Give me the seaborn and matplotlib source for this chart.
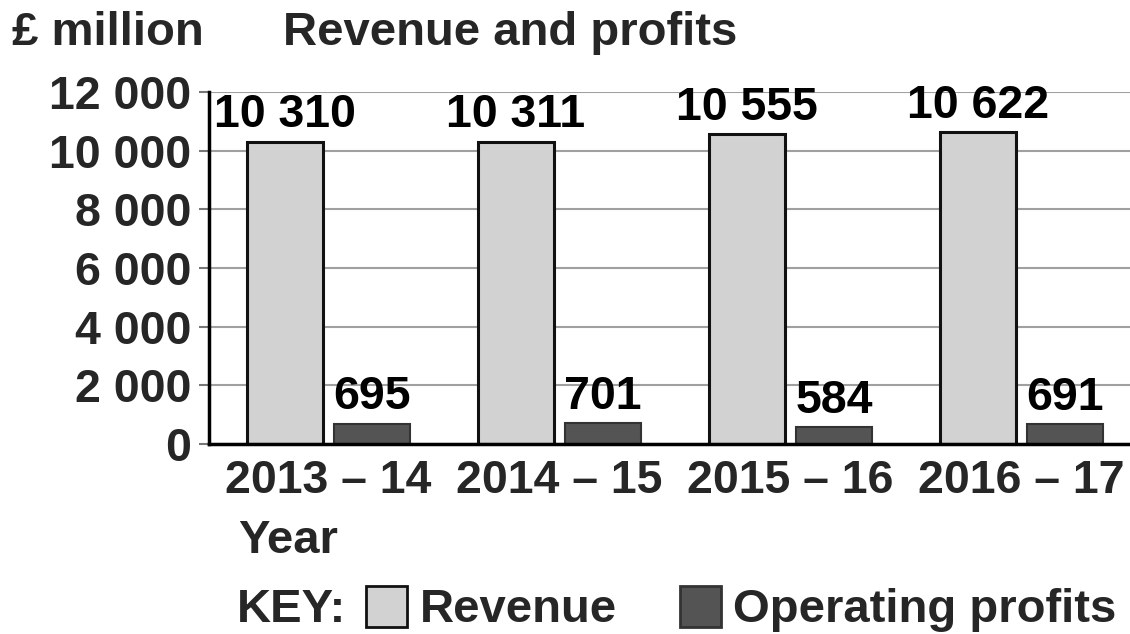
import numpy as np
import pandas as pd
import matplotlib
matplotlib.use("Agg")
import matplotlib.pyplot as plt
import seaborn as sns
from matplotlib.patches import Rectangle

# -------- Datos --------
years = ["2013 – 14", "2014 – 15", "2015 – 16", "2016 – 17"]
revenue = [10310, 10311, 10555, 10622]
profits = [695, 701, 584, 691]
series = ["Revenue", "Operating profits"]
colores = {"Revenue": "#d2d2d2", "Operating profits": "#545454"}
bordes = {"Revenue": "#111111", "Operating profits": "#333333"}
yticks = [0, 2000, 4000, 6000, 8000, 10000, 12000]


def fmt_miles(v):
    """12000 -> '12 000' (separador de miles con espacio)."""
    return f"{int(v):,}".replace(",", " ")


df = pd.DataFrame({
    "year": years * 2,
    "value": revenue + profits,
    "serie": [series[0]] * len(years) + [series[1]] * len(years),
})

sns.set_theme(style="white")
plt.rcParams["font.family"] = ["Liberation Sans", "DejaVu Sans"]
plt.rcParams["font.weight"] = "bold"

FS = 34      # textos generales
FS_T = 33.5  # ticks y etiquetas de valor

W, H = 1130, 634
fig = plt.figure(figsize=(W / 100, H / 100), dpi=100)
ax = fig.add_axes([209 / W, 1 - 444 / H, 1 - 209 / W, 352 / H])

sns.barplot(data=df, x="year", y="value", hue="serie", hue_order=series,
            palette=colores, width=0.752, gap=0.12, linewidth=2,
            edgecolor="#111111", legend=False, ax=ax)

for cont, s in zip(ax.containers, series):
    for p in cont:
        p.set_edgecolor(bordes[s])
        p.set_linewidth(2.2 if s == "Revenue" else 1.5)
    ax.bar_label(cont, labels=[fmt_miles(v) for v in cont.datavalues],
                 padding=3, fontsize=FS_T, fontweight="bold", color="black")

ax.set_ylim(0, 12000)
ax.set_xlim(-0.517, 3.47)
ax.set_yticks(yticks)
ax.set_yticklabels([fmt_miles(v) for v in yticks], fontsize=FS_T, fontweight="bold")
ax.set_xticks(range(len(years)))
ax.set_xticklabels(years, fontsize=FS_T, fontweight="bold")
ax.set_xlabel("")
ax.set_ylabel("")
ax.yaxis.grid(True, color="#a0a0a0", linewidth=1.5)
ax.set_axisbelow(True)
ax.tick_params(axis="y", length=7, width=1.5, color="#777777", pad=6, left=True)
ax.tick_params(axis="x", length=0, pad=11)
for lado in ["top", "right"]:
    ax.spines[lado].set_visible(False)
for lado in ["left", "bottom"]:
    ax.spines[lado].set_color("black")
    ax.spines[lado].set_linewidth(2.5)

# Cabecera
fig.text(12 / W, 1 - 45 / H, "£ million", fontsize=FS, fontweight="bold", va="baseline")
fig.text(283 / W, 1 - 45 / H, "Revenue and profits", fontsize=FS, fontweight="bold", va="baseline")
fig.text(238 / W, 1 - 553 / H, "Year", fontsize=FS, fontweight="bold", va="baseline")

# Leyenda manual (KEY:)
fig.text(237 / W, 1 - 622 / H, "KEY:", fontsize=FS, fontweight="bold", va="baseline")
key_pos = [(366, 420), (680, 733)]  # (x cuadro, x texto) en píxeles
for s, (xc, xt) in zip(series, key_pos):
    fig.add_artist(Rectangle((xc / W, 1 - 627 / H), 41 / W, 41 / H,
                             transform=fig.transFigure, facecolor=colores[s],
                             edgecolor=bordes[s], linewidth=2))
    fig.text(xt / W, 1 - 622 / H, s, fontsize=FS, fontweight="bold", va="baseline")

fig.savefig("out.png", dpi=100)
